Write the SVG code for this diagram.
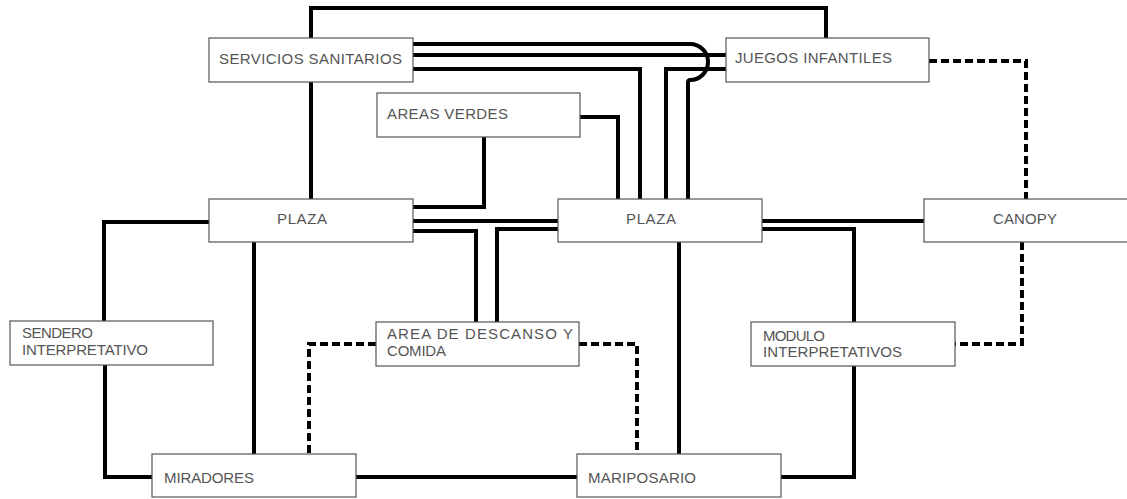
<svg xmlns="http://www.w3.org/2000/svg" width="1127" height="499" viewBox="0 0 1127 499">
<style>
.bg{fill:#fff}
.box{fill:#fff;stroke:#555;stroke-width:1.2}
.c{fill:none;stroke:#000;stroke-width:4;stroke-linejoin:miter}
.d{fill:none;stroke:#000;stroke-width:4;stroke-dasharray:8 4}
.t{font-family:"Liberation Sans",Arial,sans-serif;font-size:15px;fill:#555}
</style>
<rect class="bg" x="0" y="0" width="1127" height="499"/>
<g id="connectors">
<path class="c" d="M311 38 V8 H826 V38"/>
<path class="c" d="M311 82 V199"/>
<path class="c" d="M413 44 H690 A18 18 0 0 1 690 80 Q688 80 688 83 V199"/>
<path class="c" d="M413 55 H726"/>
<path class="c" d="M413 69 H640 V199"/>
<path class="c" d="M726 69 H666 V199"/>
<path class="c" d="M580 117 H618 V199"/>
<path class="c" d="M484 137 V207 H413"/>
<path class="c" d="M413 221 H558"/>
<path class="c" d="M413 231 H476 V322"/>
<path class="c" d="M558 229 H497 V322"/>
<path class="c" d="M762 221 H924"/>
<path class="c" d="M762 229 H854 V322"/>
<path class="c" d="M854 366 V477 H781"/>
<path class="c" d="M679 242 V454"/>
<path class="c" d="M209 222 H104 V321"/>
<path class="c" d="M105 365 V477 H152"/>
<path class="c" d="M254 242 V454"/>
<path class="c" d="M356 477 H577"/>
<path class="d" d="M929 61 H1026 V199"/>
<path class="d" d="M1022 242 V344 H955"/>
<path class="d" d="M376 344 H309 V454"/>
<path class="d" d="M579 344 H637 V454"/>
</g>
<g id="servicios-sanitarios"><rect class="box" x="209" y="38" width="204" height="44"/><text class="t" x="219" y="64" textLength="183" lengthAdjust="spacing">SERVICIOS SANITARIOS</text></g>
<g id="juegos-infantiles"><rect class="box" x="726" y="38" width="203" height="44"/><text class="t" x="735" y="63" textLength="157" lengthAdjust="spacing">JUEGOS INFANTILES</text></g>
<g id="areas-verdes"><rect class="box" x="377" y="93" width="203" height="44"/><text class="t" x="387" y="119" textLength="121" lengthAdjust="spacing">AREAS VERDES</text></g>
<g id="plaza-1"><rect class="box" x="209" y="199" width="204" height="43"/><text class="t" x="277" y="224" textLength="50" lengthAdjust="spacing">PLAZA</text></g>
<g id="plaza-2"><rect class="box" x="558" y="199" width="204" height="43"/><text class="t" x="626" y="224" textLength="50" lengthAdjust="spacing">PLAZA</text></g>
<g id="canopy"><rect class="box" x="924" y="199" width="206" height="43"/><text class="t" x="993" y="224" textLength="64" lengthAdjust="spacing">CANOPY</text></g>
<g id="sendero-interpretativo"><rect class="box" x="10" y="321" width="203" height="44"/><text class="t" x="22" y="338" textLength="71" lengthAdjust="spacing">SENDERO</text><text class="t" x="22" y="355" textLength="126" lengthAdjust="spacing">INTERPRETATIVO</text></g>
<g id="area-descanso"><rect class="box" x="376" y="322" width="203" height="44"/><text class="t" x="387" y="339" textLength="186" lengthAdjust="spacing">AREA DE DESCANSO Y</text><text class="t" x="387" y="356" textLength="59" lengthAdjust="spacing">COMIDA</text></g>
<g id="modulo-interpretativos"><rect class="box" x="751" y="322" width="204" height="44"/><text class="t" x="763" y="341" textLength="62" lengthAdjust="spacing">MODULO</text><text class="t" x="763" y="357" textLength="139" lengthAdjust="spacing">INTERPRETATIVOS</text></g>
<g id="miradores"><rect class="box" x="152" y="454" width="204" height="43"/><text class="t" x="164" y="483" textLength="90" lengthAdjust="spacing">MIRADORES</text></g>
<g id="mariposario"><rect class="box" x="577" y="454" width="204" height="43"/><text class="t" x="588" y="483" textLength="108" lengthAdjust="spacing">MARIPOSARIO</text></g>
</svg>
